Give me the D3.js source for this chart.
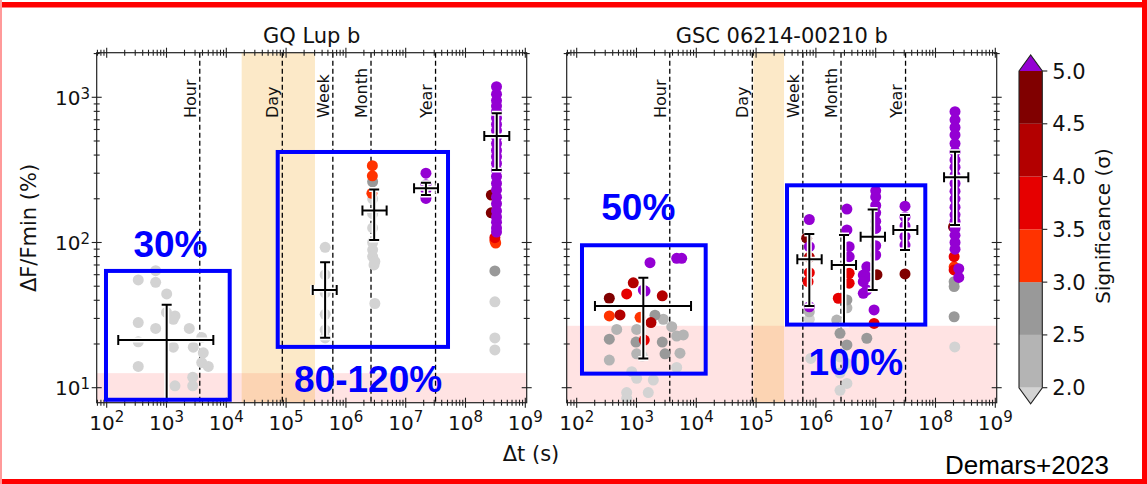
<!DOCTYPE html>
<html>
<head>
<meta charset="utf-8">
<script src="https://cdn.jsdelivr.net/npm/d3@7"></script>
<style>
  body { margin: 0; background: #fff; }
  svg { display: block; font-family: "DejaVu Sans", sans-serif; }
</style>
</head>
<body>
<div id="wrapper"></div>
<script>
// ---- data ----
// points: [delta t (s), dF/Fmin (%), significance (sigma)]
const gqPoints = [
  // < 1 hour
  [337, 55.2, 1.5], [659, 64, 1.5], [659, 53.2, 1.5], [1007, 44.2, 1.5], [1387, 31.2, 1.5],
  [1300, 29.6, 1.5], [1000, 33, 1.5], [337, 28.1, 1.5], [659, 25.6, 1.5], [2404, 25.6, 1.5],
  [337, 20.7, 1.5], [1300, 19, 1.5], [2805, 19, 1.5], [3882, 22.2, 1.5], [4121, 17.4, 1.5],
  [3882, 14.9, 1.5], [5000, 14, 1.5], [337, 14, 1.5], [2742, 11.8, 1.5], [2742, 10.3, 1.5],
  [1387, 10.3, 1.5],
  // ~ week
  [4.5e5, 92.7, 1.5], [4.5e5, 60, 1.5], [4.5e5, 45, 1.5], [4.5e5, 32, 1.5], [4.5e5, 25, 1.5], [4.5e5, 22, 1.5],
  // ~ month
  [2.77e6, 338, 3.3], [2.77e6, 288, 3.3], [2.72e6, 218, 3.3], [2.8e6, 262, 2.7], [2.8e6, 200, 1.5],
  [2.8e6, 158, 1.5], [2.8e6, 126, 1.5], [2.8e6, 100, 1.5], [2.8e6, 89, 1.5], [2.8e6, 80, 1.5],
  [2.95e6, 70, 1.5], [3.05e6, 74, 1.5], [3.05e6, 38, 1.5],
  // ~ year
  [2.18e7, 300, 5.5], [2.18e7, 250, 5.5], [2.18e7, 230, 5.5], [2.18e7, 201, 5.5],
  // ~ decade
  [3.3e8, 1183, 5.5], [3.3e8, 1050, 5.5], [3.3e8, 950, 5.5], [3.3e8, 870, 5.5], [3.3e8, 800, 5.5],
  [3.3e8, 720, 5.5], [3.3e8, 650, 5.5], [3.3e8, 590, 5.5], [3.3e8, 530, 5.5], [3.3e8, 480, 5.5],
  [3.3e8, 430, 5.5], [3.3e8, 390, 5.5], [3.3e8, 350, 5.5], [3.3e8, 315, 5.5], [3.3e8, 285, 5.5],
  [3.3e8, 255, 5.5], [3.3e8, 230, 5.5], [3.3e8, 205, 5.5], [3.3e8, 185, 5.5], [3.3e8, 165, 5.5],
  [3.3e8, 150, 5.5], [3.3e8, 138, 5.5], [3.3e8, 126, 5.5], [3.3e8, 118, 5.5],
  [2.7e8, 212, 4.7], [2.7e8, 160, 4.7], [3.1e8, 108, 3.8], [3.1e8, 103, 3.3], [3.2e8, 99, 3.3],
  [3.1e8, 63.7, 2.7], [3.1e8, 39, 1.5], [3.1e8, 22, 1.5], [3.1e8, 18.2, 1.5]
]

const gscPoints = [
  // < 1 hour
  [1683, 72.6, 5.5], [4700, 77.8, 5.5], [5700, 77.8, 5.5], [1387, 46.3, 5.5], [1300, 47, 5.5],
  [351, 41.3, 4.7],
  [883, 52.8, 4.3], [530, 31.7, 4.3], [2698, 42.9, 4.3], [1746, 28.1, 4.3],
  [685, 44.2, 3.8], [1349, 21.3, 3.8],
  [351, 31.2, 3.2], [1146, 30.5, 3.2],
  [2037, 31.6, 2.7], [351, 21.6, 2.7], [982, 20.6, 2.7], [2698, 20.6, 2.7], [3000, 17.1, 2.7],
  [467, 25.2, 2.2], [1007, 25.2, 2.2], [2805, 29.6, 2.2], [3882, 26.3, 2.2], [4700, 22.7, 2.2],
  [6067, 23.1, 2.2], [351, 15.5, 2.2], [1007, 17.1, 2.2], [5333, 17.3, 2.2],
  [1250, 16.5, 1.5], [832, 12.9, 1.5], [1007, 11.6, 1.5], [1910, 11.3, 1.5], [4700, 13.8, 1.5],
  [685, 9.25, 1.5], [685, 8.45, 1.5], [1574, 9.25, 1.5],
  // ~ week
  [7.76e5, 144, 5.5], [7.76e5, 93.5, 5.5], [7.76e5, 36.1, 5.5], [7.0e5, 107, 4.7], [7.76e5, 79, 4.3],
  [7.76e5, 62, 3.8], [7.4e5, 53.7, 3.8], [7.76e5, 33.3, 2.2], [7.76e5, 29.6, 1.5], [8.2e5, 15.9, 1.5],
  // ~ month
  [3.3e6, 170, 5.5], [3.3e6, 122, 5.5], [3.6e6, 93.5, 5.5], [3.6e6, 79.8, 5.5], [3.6e6, 61.4, 3.8],
  [3.6e6, 52.5, 3.8], [2.37e6, 41.3, 3.8], [3.3e6, 40.2, 2.7], [3.3e6, 35.5, 2.2], [2.23e6, 29.2, 2.2],
  [2.53e6, 23.7, 2.7], [3.3e6, 19.7, 2.7], [2.53e6, 16.3, 1.5], [3.3e6, 14.7, 1.5], [2.53e6, 12.6, 1.5],
  [3.3e6, 10.7, 1.5], [2.53e6, 9.6, 1.5],
  // ~ 3 months
  [1.0e7, 227, 5.5], [1.0e7, 206, 5.5], [1.0e7, 180, 5.5], [1.0e7, 160, 5.5], [1.0e7, 140, 5.5],
  [1.0e7, 125, 5.5], [1.0e7, 95, 5.5], [1.0e7, 82, 5.5], [7.1e6, 68, 5.5], [6.2e6, 59.7, 5.5],
  [7.1e6, 58, 5.5], [6.2e6, 53.7, 5.5], [7.1e6, 47, 5.5], [6.2e6, 44.7, 5.5], [9.4e6, 34.3, 5.5],
  [9.4e6, 27.7, 3.8], [1.05e7, 60, 4.7], [7.1e6, 21.9, 2.7],
  // ~ year
  [3.09e7, 178, 5.5], [3.09e7, 150, 5.5], [3.09e7, 130, 5.5], [3.09e7, 110, 5.5], [3.09e7, 96, 5.5],
  [3.09e7, 60.7, 4.7],
  // ~ decade
  [2.12e8, 796, 5.5], [2.12e8, 700, 5.5], [2.12e8, 620, 5.5], [2.12e8, 550, 5.5], [2.12e8, 480, 5.5],
  [2.12e8, 420, 5.5], [2.12e8, 370, 5.5], [2.12e8, 330, 5.5], [2.12e8, 290, 5.5], [2.12e8, 255, 5.5],
  [2.12e8, 225, 5.5], [2.12e8, 200, 5.5], [2.12e8, 175, 5.5], [2.12e8, 155, 5.5], [2.12e8, 140, 5.5],
  [2.12e8, 125, 5.5], [2.12e8, 112, 5.5], [2.12e8, 100, 5.5], [2.12e8, 90, 5.5],
  [2.45e8, 66, 5.5], [2.45e8, 57.5, 5.5], [2.0e8, 128, 4.7], [2.05e8, 79.8, 3.8], [2.05e8, 68, 3.3],
  [2.05e8, 64.7, 3.8], [2.05e8, 53.7, 2.7], [2.05e8, 49.7, 2.7], [2.05e8, 30.8, 2.7], [2.1e8, 19.1, 1.5]
]

// error crosses: [t mid, t low, t high, dF mid, dF low, dF high]
const gqBars = [
  [1007, 156, 6067, 21.3, 1, 37.2],
  [4.49e5, 2.79e5, 7.02e5, 47.1, 22.1, 73.1],
  [2.97e6, 1.89e6, 4.8e6, 166, 104, 232],
  [2.18e7, 1.38e7, 3.47e7, 236, 212, 258],
  [3.33e8, 2.06e8, 5.4e8, 541, 316, 776]
]
const gscBars = [
  [1300, 202, 8166, 36.6, 15.9, 57.2],
  [7.76e5, 4.89e5, 1.25e6, 76.6, 36.6, 114.6],
  [2.95e6, 1.84e6, 4.69e6, 70, 27, 112.7],
  [8.9e6, 5.6e6, 1.43e7, 109.6, 47.1, 169],
  [3.09e7, 1.97e7, 4.97e7, 121.9, 88.7, 154.5],
  [2.12e8, 1.39e8, 3.54e8, 281, 132, 422]
]

const periodNames = ['Hour', 'Day', 'Week', 'Month', 'Year']
const periodSeconds = [3600, 86400, 604800, 2629800, 31557600]

// sampling gap (orange) and noise floor (pink)
const gqGap = [18070, 304000]
const gscGap = [89700, 293000]
const gqFloor = 12.6
const gscFloor = 26.7

// blue annotation boxes: [t0, t1, dF0, dF1], labels: [text, t, dF]
const gqBoxes = [[97.3, 11400, 8.26, 63.7], [72400, 5.1e7, 19.1, 420]]
const gqBoxLabels = [['30%', 1167, 79.8], ['80-120%', 2.35e6, 9.38]]
const gscBoxes = [[122.6, 14350, 12.5, 95.7], [328800, 6.75e7, 27.2, 247.6]]
const gscBoxLabels = [['50%', 1072, 142.9], ['100%', 4.65e6, 12.2]]

const titles = ['GQ Lup b', 'GSC 06214-00210 b']
const xTickExps = [2, 3, 4, 5, 6, 7, 8, 9]
const yTickExps = [1, 2, 3]
const sigmaBounds = [2, 2.5, 3, 3.5, 4, 4.5, 5]
const sigmaColors = ['#d3d3d3', '#b4b4b4', '#999999', '#ff3300', '#e60000', '#b30000', '#800000', '#9400d3']
const cbTicks = [2.0, 2.5, 3.0, 3.5, 4.0, 4.5, 5.0]

// ---- dimensions ----
const dimensions = {
  width: 1147,
  height: 484,
  plotTop: 52.7,
  plotH: 350,
  plotW: 430,
  panelLeft: [96.7, 566.7],
}
const xDomain = [10 ** 1.8328, 10 ** 9.0234]
const yDomain = [10 ** 0.8967, 10 ** 3.307]

const color = d3.scaleThreshold().domain(sigmaBounds).range(sigmaColors)

const wrapper = d3.select('#wrapper')
  .append('svg')
    .attr('width', dimensions.width)
    .attr('height', dimensions.height)

wrapper.append('rect')
    .attr('width', dimensions.width)
    .attr('height', dimensions.height)
    .attr('fill', '#fff')

const panels = [
  { id: 0, points: gqPoints, bars: gqBars, gap: gqGap, floor: gqFloor, boxes: gqBoxes, labels: gqBoxLabels, yLabels: true },
  { id: 1, points: gscPoints, bars: gscBars, gap: gscGap, floor: gscFloor, boxes: gscBoxes, labels: gscBoxLabels, yLabels: false },
]

const minorValues = []
for (let e = 1; e <= 9; e++) for (let m = 2; m <= 9; m++) minorValues.push(m * 10 ** e)

panels.forEach(p => {
  const left = dimensions.panelLeft[p.id]
  const top = dimensions.plotTop
  const bottom = top + dimensions.plotH
  const right = left + dimensions.plotW

  const xScale = d3.scaleLog().domain(xDomain).range([left, right])
  const yScale = d3.scaleLog().domain(yDomain).range([bottom, top])

  const clipId = 'clip' + p.id
  wrapper.append('clipPath').attr('id', clipId)
    .append('rect')
      .attr('x', left).attr('y', top)
      .attr('width', dimensions.plotW).attr('height', dimensions.plotH)

  const bounds = wrapper.append('g').attr('clip-path', `url(#${clipId})`)

  // noise floor band
  bounds.append('rect')
      .attr('x', left).attr('width', dimensions.plotW)
      .attr('y', yScale(p.floor)).attr('height', bottom - yScale(p.floor))
      .attr('fill', '#ff0000').attr('fill-opacity', 0.11)

  // gap band
  bounds.append('rect')
      .attr('x', xScale(p.gap[0])).attr('width', xScale(p.gap[1]) - xScale(p.gap[0]))
      .attr('y', top).attr('height', dimensions.plotH)
      .attr('fill', '#f5a623').attr('fill-opacity', 0.25)

  // period lines
  bounds.selectAll('.period')
    .data(periodSeconds)
    .join('line')
      .attr('x1', d => xScale(d)).attr('x2', d => xScale(d))
      .attr('y1', top).attr('y2', bottom)
      .attr('stroke', '#000').attr('stroke-width', 1.3)
      .attr('stroke-dasharray', '5,3')

  bounds.selectAll('.period-label')
    .data(periodSeconds)
    .join('text')
      .attr('transform', d => `translate(${xScale(d) - 4},118) rotate(-90)`)
      .style('font-size', '16px')
      .attr('fill', '#111')
      .text((d, i) => periodNames[i])

  // points
  const sorted = p.points.slice().sort((a, b) => a[2] - b[2])
  bounds.selectAll('.dot')
    .data(sorted)
    .join('circle')
      .attr('cx', d => xScale(d[0]))
      .attr('cy', d => yScale(d[1]))
      .attr('r', 5.5)
      .attr('fill', d => color(d[2]))

  // error crosses
  const cap = 5
  const barSegments = d => [
    [xScale(d[1]), yScale(d[3]), xScale(d[2]), yScale(d[3])],
    [xScale(d[0]), yScale(d[4]), xScale(d[0]), yScale(d[5])],
    [xScale(d[1]), yScale(d[3]) - cap, xScale(d[1]), yScale(d[3]) + cap],
    [xScale(d[2]), yScale(d[3]) - cap, xScale(d[2]), yScale(d[3]) + cap],
    [xScale(d[0]) - cap, yScale(d[4]), xScale(d[0]) + cap, yScale(d[4])],
    [xScale(d[0]) - cap, yScale(d[5]), xScale(d[0]) + cap, yScale(d[5])],
  ]
  const segs = p.bars.flatMap(barSegments)
  ;[['#fff', 5], ['#000', 2]].forEach(([c, w]) => {
    bounds.append('g').selectAll('line')
      .data(segs)
      .join('line')
        .attr('x1', d => d[0]).attr('y1', d => d[1])
        .attr('x2', d => d[2]).attr('y2', d => d[3])
        .attr('stroke', c).attr('stroke-width', w)
        .attr('stroke-linecap', 'butt')
  })

  // frame
  wrapper.append('rect')
      .attr('x', left).attr('y', top)
      .attr('width', dimensions.plotW).attr('height', dimensions.plotH)
      .attr('fill', 'none').attr('stroke', '#222').attr('stroke-width', 1.2)

  // ticks on all four sides (in-out)
  const xMajor = xTickExps.map(e => 10 ** e)
  const xMinor = minorValues.filter(v => v > xDomain[0] && v < xDomain[1])
  const yMajor = yTickExps.map(e => 10 ** e)
  const yMinor = minorValues.filter(v => v > yDomain[0] && v < yDomain[1])
  const tickG = wrapper.append('g').attr('stroke', '#222').attr('stroke-width', 1.1)
  ;[top, bottom].forEach(yy => {
    xMajor.forEach(v => tickG.append('line').attr('x1', xScale(v)).attr('x2', xScale(v)).attr('y1', yy - 5).attr('y2', yy + 5))
    xMinor.forEach(v => tickG.append('line').attr('x1', xScale(v)).attr('x2', xScale(v)).attr('y1', yy - 3).attr('y2', yy + 3))
  })
  ;[left, right].forEach(xx => {
    yMajor.forEach(v => tickG.append('line').attr('y1', yScale(v)).attr('y2', yScale(v)).attr('x1', xx - 5).attr('x2', xx + 5))
    yMinor.forEach(v => tickG.append('line').attr('y1', yScale(v)).attr('y2', yScale(v)).attr('x1', xx - 3).attr('x2', xx + 3))
  })

  // tick labels
  xTickExps.forEach(e => {
    const t = wrapper.append('text')
        .attr('x', xScale(10 ** e)).attr('y', 430)
        .attr('text-anchor', 'middle')
        .style('font-size', '20px').attr('fill', '#111')
    t.append('tspan').text('10')
    t.append('tspan').attr('dy', -8).style('font-size', '15px').text(e)
  })
  if (p.yLabels) {
    yTickExps.forEach(e => {
      const t = wrapper.append('text')
          .attr('x', 90).attr('y', yScale(10 ** e) + 7.5)
          .attr('text-anchor', 'end')
          .style('font-size', '20px').attr('fill', '#111')
      t.append('tspan').text('10')
      t.append('tspan').attr('dy', -6).style('font-size', '15px').text(e)
    })
  }

  // title
  wrapper.append('text')
      .attr('x', (left + right) / 2).attr('y', 43.3)
      .attr('text-anchor', 'middle')
      .style('font-size', '21px').attr('fill', '#111')
      .text(titles[p.id])

  // blue boxes
  wrapper.selectAll(null)
    .data(p.boxes)
    .join('rect')
      .attr('x', d => xScale(d[0])).attr('width', d => xScale(d[1]) - xScale(d[0]))
      .attr('y', d => yScale(d[3])).attr('height', d => yScale(d[2]) - yScale(d[3]))
      .attr('fill', 'none').attr('stroke', '#0000ff').attr('stroke-width', 4)

  wrapper.selectAll(null)
    .data(p.labels)
    .join('text')
      .attr('x', d => xScale(d[1])).attr('y', d => yScale(d[2]))
      .attr('text-anchor', 'middle')
      .style('font-family', '"Liberation Sans", Arial, sans-serif')
      .style('font-size', '37px').style('font-weight', 'bold')
      .attr('fill', '#0000ff')
      .text(d => d[0])
})

// axis labels
wrapper.append('text')
    .attr('transform', 'translate(36,228) rotate(-90)')
    .attr('text-anchor', 'middle')
    .style('font-size', '21px').attr('fill', '#111')
    .text('ΔF/Fmin (%)')

wrapper.append('text')
    .attr('x', 531).attr('y', 461)
    .attr('text-anchor', 'middle')
    .style('font-size', '21px').attr('fill', '#111')
    .text('Δt (s)')

// colorbar
const cb = { x0: 1019, x1: 1042.3, ext: 16 }
const cbScale = d3.scaleLinear().domain([2, 5]).range([387.7, 71])
const cbG = wrapper.append('g')
cbG.selectAll('rect')
  .data(sigmaBounds.slice(0, -1))
  .join('rect')
    .attr('x', cb.x0).attr('width', cb.x1 - cb.x0)
    .attr('y', d => cbScale(d + 0.5)).attr('height', d => cbScale(d) - cbScale(d + 0.5))
    .attr('fill', d => color(d))
const cxMid = (cb.x0 + cb.x1) / 2
cbG.append('path')
    .attr('d', `M${cb.x0},${cbScale(5)}L${cxMid},${cbScale(5) - cb.ext}L${cb.x1},${cbScale(5)}Z`)
    .attr('fill', color(5.5))
cbG.append('path')
    .attr('d', `M${cb.x0},${cbScale(2)}L${cxMid},${cbScale(2) + cb.ext}L${cb.x1},${cbScale(2)}Z`)
    .attr('fill', color(1.5))
cbG.append('path')
    .attr('d', `M${cb.x0},${cbScale(5)}L${cxMid},${cbScale(5) - cb.ext}L${cb.x1},${cbScale(5)}L${cb.x1},${cbScale(2)}L${cxMid},${cbScale(2) + cb.ext}L${cb.x0},${cbScale(2)}Z`)
    .attr('fill', 'none').attr('stroke', '#222').attr('stroke-width', 1.1)
cbG.selectAll('.cbtick')
  .data(cbTicks)
  .join('line')
    .attr('x1', cb.x1).attr('x2', cb.x1 + 5)
    .attr('y1', d => cbScale(d)).attr('y2', d => cbScale(d))
    .attr('stroke', '#222').attr('stroke-width', 1.1)
cbG.selectAll('.cblabel')
  .data(cbTicks)
  .join('text')
    .attr('x', cb.x1 + 10).attr('y', d => cbScale(d) + 7.5)
    .style('font-size', '21px').attr('fill', '#111')
    .text(d => d.toFixed(1))
wrapper.append('text')
    .attr('transform', 'translate(1110,226) rotate(-90)')
    .attr('text-anchor', 'middle')
    .style('font-size', '20px').attr('fill', '#111')
    .text('Significance (σ)')

// credit
wrapper.append('text')
    .attr('x', 945).attr('y', 474)
    .style('font-family', '"Liberation Sans", Arial, sans-serif')
    .style('font-size', '26px').attr('fill', '#000')
    .text('Demars+2023')

// red frame
const frame = wrapper.append('g')
frame.append('rect').attr('x', 0).attr('y', 2).attr('width', dimensions.width).attr('height', 5.5).attr('fill', '#ff0000')
frame.append('rect').attr('x', 0).attr('y', 479).attr('width', dimensions.width).attr('height', 5).attr('fill', '#ff0000')
frame.append('rect').attr('x', 1142).attr('y', 0).attr('width', 5).attr('height', dimensions.height).attr('fill', '#ff0000')
frame.append('rect').attr('x', 0).attr('y', 0).attr('width', 2).attr('height', dimensions.height).attr('fill', '#ff9a9a')
</script>
</body>
</html>
